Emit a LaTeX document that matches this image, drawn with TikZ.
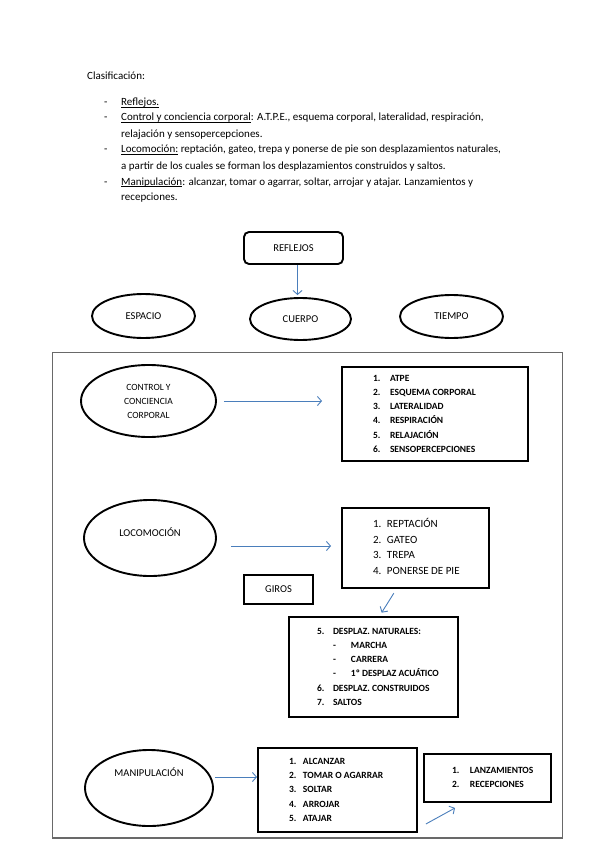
\documentclass[tikz,border=0pt]{standalone}
\usepackage{fontspec}
\setmainfont{Carlito}
\usetikzlibrary{arrows.meta,shapes.geometric,calc}
\definecolor{azul}{RGB}{74,126,187}
\definecolor{gris}{RGB}{105,105,105}
\tikzset{
    >={Straight Barb[length=4pt,width=9pt]},
    texto/.style={anchor=base west, inner sep=0pt, font=\fontsize{11}{14}\selectfont},
    elipse/.style={
        ellipse,
        draw=black, line width=1.9pt,
        inner sep=0pt,
        align=center,
        font=\fontsize{10.5}{14}\selectfont
    },
    caja/.style={
        rectangle,
        draw=black, line width=1.9pt,
        inner sep=0pt,
        font=\fontsize{10.5}{14}\selectfont
    },
    lista/.style={caja, font=\bfseries\fontsize{9.5}{14.2}\selectfont},
    flecha/.style={draw=azul, line width=0.9pt, ->},
    marco/.style={draw=gris, line width=1.3pt}
}
\newsavebox\cajasub
\newcommand{\subrayado}[1]{\sbox\cajasub{#1}\rlap{\rule[-1.6pt]{\wd\cajasub}{0.5pt}}\usebox\cajasub}
\newcommand{\listado}[4]{\begin{tabular}{@{\hspace{#1pt}}p{#2pt}@{}p{#3pt}@{}}#4\end{tabular}}

\begin{document}
\begin{tikzpicture}[x=1pt,y=-1pt]
    \useasboundingbox (0,0) rectangle (599,848);
    % clasificacion
    \node[texto] (clasif) at (87,80) {Clasificación:};
    \foreach \y in {106,121,153,185}
        \node[texto] (guion\y) at (104,\y) {-};
    \node[texto] (item1) at (121,106) {\subrayado{Reflejos.}};
    \node[texto] (item2) at (121,121) {\subrayado{Control y conciencia corporal}: A.T.P.E., esquema corporal, lateralidad, respiración,};
    \node[texto] (item2b) at (121,137) {relajación y sensopercepciones.};
    \node[texto] (item3) at (121,153) {\subrayado{Locomoción:} reptación, gateo, trepa y ponerse de pie son desplazamientos naturales,};
    \node[texto] (item3b) at (121,169) {a partir de los cuales se forman los desplazamientos construidos y saltos.};
    \node[texto] (item4) at (121,185) {\subrayado{Manipulación}: alcanzar, tomar o agarrar, soltar, arrojar y atajar. Lanzamientos y};
    \node[texto] (item4b) at (121,200) {recepciones.};

    % reflejos
    \node[caja, rounded corners=5pt, minimum width=99pt, minimum height=32pt] (reflejos) at (293.5,248) {REFLEJOS};
    \node[elipse, minimum width=103pt, minimum height=44pt] (espacio) at (143.5,316) {ESPACIO};
    \node[elipse, minimum width=101pt, minimum height=42pt] (cuerpo) at (300.5,319) {CUERPO};
    \node[elipse, minimum width=103pt, minimum height=43pt] (tiempo) at (451.5,316.5) {TIEMPO};
    \draw[flecha, shorten >=2pt] ([xshift=4pt]reflejos.south) -- ([xshift=4pt]reflejos.south |- cuerpo.north);

    \draw[marco] (52.7,352.7) rectangle (562.7,838);

    % control y conciencia corporal
    \node[elipse, minimum width=135pt, minimum height=72pt, font=\fontsize{9.5}{14}\selectfont] (control) at (148.5,401) {CONTROL Y\\CONCIENCIA\\CORPORAL};
    \node[lista, minimum width=186pt, minimum height=94pt] (atpe) at (435,414) {\listado{31}{17}{138}{%
        1. & ATPE\\
        2. & ESQUEMA CORPORAL\\
        3. & LATERALIDAD\\
        4. & RESPIRACIÓN\\
        5. & RELAJACIÓN\\
        6. & SENSOPERCEPCIONES}};
    \draw[flecha, shorten <=7pt, shorten >=19pt] (control.east) -- (control.east -| atpe.west);

    % locomocion
    \node[elipse, minimum width=132pt, minimum height=76pt] (locomocion) at (150,538) {\raisebox{1.5pt}[0pt][0pt]{LOCOMOCIÓN}};
    \node[caja, minimum width=147pt, minimum height=80pt, font=\fontsize{11}{15.7}\selectfont] (reptacion) at (415.5,548) {\listado{31}{14}{102}{%
        1. & REPTACIÓN\\
        2. & GATEO\\
        3. & TREPA\\
        4. & PONERSE DE PIE}};
    \draw[flecha, shorten <=14pt, shorten >=10pt] ([yshift=-8pt]locomocion.east) -- ([yshift=-8pt]locomocion.east -| reptacion.west);
    \node[caja, minimum width=69pt, minimum height=29pt] (giros) at (278.5,589.5) {GIROS};
    \node[lista, minimum width=169pt, minimum height=100pt] (desplaz) at (373.5,667) {\listado{28}{16}{125}{%
        5. & DESPLAZ. NATURALES:\\
           & \makebox[18pt][l]{-}MARCHA\\
           & \makebox[18pt][l]{-}CARRERA\\
           & \makebox[18pt][l]{-}1º DESPLAZ ACUÁTICO\\
        6. & DESPLAZ. CONSTRUIDOS\\
        7. & SALTOS}};
    \draw[flecha, shorten <=5pt, shorten >=4pt] ([xshift=-19pt]reptacion.south) -- ([xshift=6pt]desplaz.north);

    % manipulacion
    \node[elipse, minimum width=128pt, minimum height=76pt] (manipulacion) at (149,788) {\raisebox{11.5pt}[0pt][0pt]{MANIPULACIÓN}};
    \node[lista, minimum width=159pt, minimum height=84pt] (alcanzar) at (337.5,790) {\listado{31}{14}{114}{%
        1. & ALCANZAR\\
        2. & TOMAR O AGARRAR\\
        3. & SOLTAR\\
        4. & ARROJAR\\
        5. & ATAJAR}};
    \node[lista, minimum width=127pt, minimum height=48pt] (lanzamientos) at (487.5,778) {\listado{28}{18}{81}{%
        1. & LANZAMIENTOS\\
        2. & RECEPCIONES}};
    \draw[flecha, shorten <=1pt] ([yshift=11pt]manipulacion.east) -- ([yshift=11pt]manipulacion.east -| alcanzar.west);
    \draw[flecha] ($(alcanzar.south east)+(8,-9)$) -- ($(lanzamientos.south west)+(32,5)$);
\end{tikzpicture}
\end{document}
